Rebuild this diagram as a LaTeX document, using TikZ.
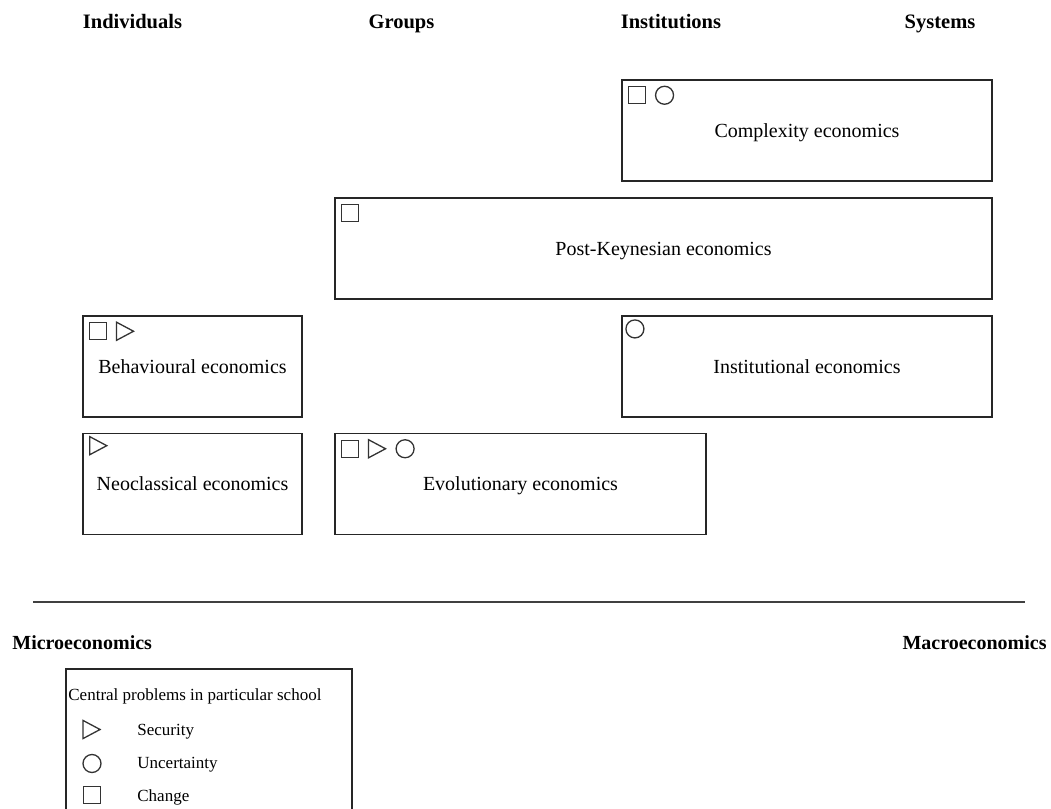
\documentclass[tikz,border=0pt]{standalone}
\usepackage{fontspec}
\setmainfont{Liberation Serif}
\usetikzlibrary{positioning,shapes.geometric}

\begin{document}
\begin{tikzpicture}[x=0.5pt, y=-0.5pt,
  school/.style={rectangle, draw=black!85, line width=0.9pt, minimum height=50.5pt, inner sep=0pt, text height=0.86em, text depth=0.2em, font=\fontsize{10}{12}\selectfont},
  head/.style={anchor=base, font=\fontsize{10.25}{12}\selectfont\bfseries},
  sq/.style={rectangle, draw=black!80, line width=0.65pt, minimum size=8.5pt, inner sep=0pt},
  crc/.style={circle, draw=black!80, line width=0.65pt, minimum size=9pt, inner sep=0pt},
  tri/.style={isosceles triangle, isosceles triangle apex angle=56, draw=black!80, line width=0.65pt, minimum height=8.5pt, inner sep=0pt},
  legtext/.style={anchor=base west, inner sep=0pt, font=\fontsize{8.5}{10}\selectfont}]

\useasboundingbox (0,0) rectangle (1051,809);
\clip (0,0) rectangle (1051,809);

% levels
\node[head] (indiv) at (132.5,28) {Individuals};
\node[head] (groups) at (401.5,28) {Groups};
\node[head] (instit) at (671,28) {Institutions};
\node[head] (systems) at (940,28) {Systems};

% schools
\node[school, minimum width=185pt] (cplx) at (807,130.5) {Complexity economics};
\node[school, minimum width=328.5pt] (pk) at (663.5,248.5) {Post-Keynesian economics};
\node[school, minimum width=109.5pt] (behav) at (192.5,366.5) {Behavioural economics};
\node[school, minimum width=185pt] (inst) at (807,366.5) {Institutional economics};
\node[school, minimum width=109.5pt] (neo) at (192.5,484) {Neoclassical economics};
\node[school, minimum width=185.5pt] (evol) at (520.5,484) {Evolutionary economics};

% problems of each school
\node[sq, below right=3.5pt and 3.5pt of cplx.north west] (cplxa) {};
\node[crc, right=4.25pt of cplxa] (cplxb) {};
\node[sq, below right=3.5pt and 3.5pt of pk.north west] (pka) {};
\node[sq, below right=3.5pt and 3.5pt of behav.north west] (behava) {};
\node[tri, right=4.25pt of behava] (behavb) {};
\node[crc, below right=3.5pt and 3.5pt of inst.north west] (insta) {};
\node[tri, below right=3.5pt and 3.5pt of neo.north west] (neoa) {};
\node[sq, below right=3.5pt and 3.5pt of evol.north west] (evola) {};
\node[tri, right=4.25pt of evola] (evolb) {};
\node[crc, right=4.25pt of evolb] (evolc) {};

% micro / macro axis
\coordinate (axl) at (33,602);
\coordinate (axr) at (1025,602);
\draw[black!75, line width=1pt] (axl) -- (axr);
\node[anchor=base west, inner sep=0pt, font=\fontsize{10}{12}\selectfont\bfseries] (micro) at (12,649) {Microeconomics};
\node[anchor=base east, inner sep=0pt, font=\fontsize{10}{12}\selectfont\bfseries] (macro) at (1047,649) {Macroeconomics};

% legend
\draw[black!85, line width=0.9pt] (66,669) rectangle (352,830);
\node[legtext] (legtitle) at (68,700) {Central problems in particular school};
\node[tri] (ltri) at (88.5,729.5) {};
\node[legtext] (lsec) at (137,735) {Security};
\node[crc] (lcrc) at (92,763.5) {};
\node[legtext] (lunc) at (137,768) {Uncertainty};
\node[sq] (lsq) at (92,795) {};
\node[legtext] (lchg) at (137,801) {Change};

\end{tikzpicture}
\end{document}
